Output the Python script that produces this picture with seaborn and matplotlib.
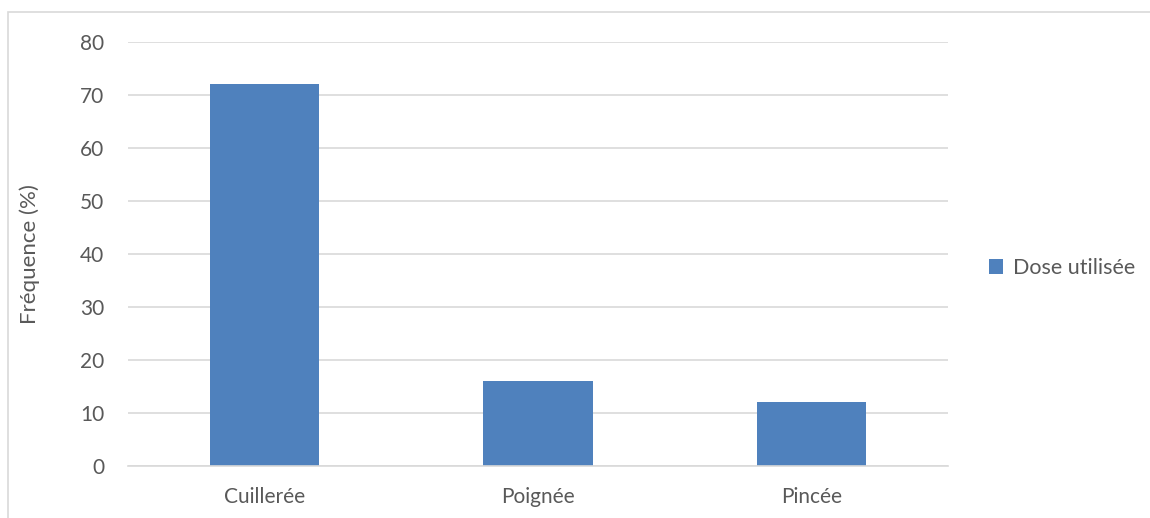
import matplotlib
matplotlib.use("Agg")
import matplotlib.pyplot as plt
import seaborn as sns
import pandas as pd
from matplotlib.patches import Rectangle

categories = ["Cuillerée", "Poignée", "Pincée"]
values = [72, 16, 12]
series_name = "Dose utilisée"
yticks = [0, 10, 20, 30, 40, 50, 60, 70, 80]

sns.set_theme(style="white")
plt.rcParams['font.family'] = ['Lato', 'DejaVu Sans']

df = pd.DataFrame({"cat": categories, "val": values, "series": series_name})

fig = plt.figure(figsize=(11.5, 5.18), dpi=100)
ax = fig.add_axes([128/1150, 1-466/518, (948-128)/1150, (466-42)/518])

sns.barplot(data=df, x="cat", y="val", hue="series", palette=["#4F81BD"],
            width=0.4, ax=ax, saturation=1, legend=True, linewidth=0)

ax.set_ylim(0, 80)
ax.set_xlim(-0.5, 2.5)
ax.set_yticks(yticks)
ax.yaxis.grid(True, color="#D9D9D9", linewidth=1.2)
ax.set_axisbelow(True)
for s in ["top", "right", "left"]:
    ax.spines[s].set_visible(False)
ax.spines["bottom"].set_color("#D9D9D9")
ax.spines["bottom"].set_linewidth(1.2)
ax.tick_params(axis="both", colors="#595959", labelsize=15, length=0)
ax.tick_params(axis="y", pad=17)
ax.tick_params(axis="x", pad=15)
ax.set_xlabel("")
ax.set_ylabel("Fréquence (%)", color="#595959", fontsize=16, labelpad=29)

leg = ax.legend(loc="center left", bbox_to_anchor=(989/1150, 1-268/518), bbox_transform=fig.transFigure,
                frameon=False, fontsize=15.5, handlelength=0.65, handleheight=0.65, handletextpad=0.45,
                borderaxespad=0, borderpad=0)
for t in leg.get_texts():
    t.set_color("#595959")

fig.patches.append(Rectangle((8/1150, -0.01), 1.2, 1-12/518+0.01, transform=fig.transFigure,
                             fill=False, edgecolor="#D9D9D9", linewidth=1.2))

fig.savefig("out.png", dpi=100)
